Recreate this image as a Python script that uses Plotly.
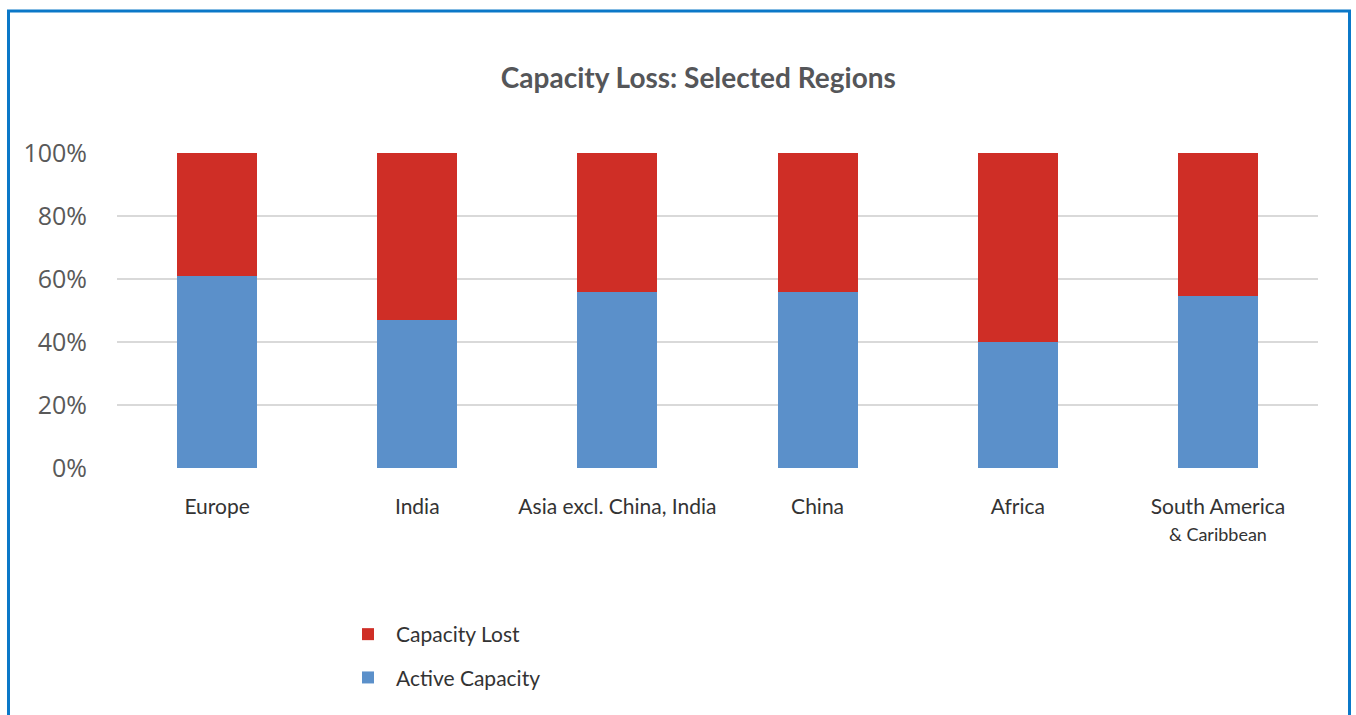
import plotly.graph_objects as go

categories = ["Europe", "India", "Asia excl. China, India", "China", "Africa",
              "South America<br><span style='font-size:18px'>& Caribbean</span>"]
active_capacity = [61, 47, 56, 56, 40, 54.5]
capacity_lost = [100 - v for v in active_capacity]
y_ticks = [0, 20, 40, 60, 80, 100]
y_tick_labels = ["0%", "20%", "40%", "60%", "80%", "100%"]

RED = "#CF2E26"
BLUE = "#5B90CA"

fig = go.Figure()
fig.add_trace(go.Bar(x=categories, y=active_capacity, name="Active Capacity",
                     marker=dict(color=BLUE, line=dict(width=0)), width=0.4,
                     legendgroup="a", legendrank=2))
fig.add_trace(go.Bar(x=categories, y=capacity_lost, name="Capacity Lost",
                     marker=dict(color=RED, line=dict(width=0)), width=0.4,
                     legendgroup="b", legendrank=1))

L, R, T, B = 117, 38, 153, 247
W, H = 1356, 715
pw, ph = W - L - R, H - T - B

def px_x(x):
    return (x - L) / pw

def px_y(y):
    return (H - B - y) / ph

fig.update_layout(
    width=W, height=H,
    margin=dict(l=L, r=R, t=T, b=B, pad=0),
    barmode="stack",
    paper_bgcolor="white", plot_bgcolor="white",
    font=dict(family="Lato, sans-serif", color="#333333"),
    title=dict(text="<b>Capacity Loss: Selected Regions</b>",
               x=0.515, xref="container", xanchor="center",
               y=1 - 78 / H, yref="container", yanchor="middle",
               font=dict(family="Lato, sans-serif", size=28, color="#555659")),
    xaxis=dict(showgrid=False, zeroline=False, showline=False,
               tickfont=dict(size=21, color="#333333"),
               ticklabelstandoff=24, ticks=""),
    yaxis=dict(range=[0, 100], tickvals=y_ticks, ticktext=y_tick_labels,
               showgrid=True, gridcolor="#D9D9D9", gridwidth=2,
               zeroline=False, showline=False, ticks="",
               tickfont=dict(family="Open Sans, sans-serif", size=25, color="#595959"),
               ticklabelstandoff=29),
    legend=dict(orientation="v", x=px_x(340), y=px_y(614), xanchor="left", yanchor="top",
                traceorder="grouped", tracegroupgap=13, itemwidth=46,
                font=dict(size=21, color="#333333"), bgcolor="rgba(0,0,0,0)"),
    shapes=[dict(type="rect", xref="paper", yref="paper",
                 x0=px_x(8.5), x1=px_x(1349.5), y0=px_y(740), y1=px_y(11),
                 line=dict(color="#0B78C8", width=3), fillcolor="rgba(0,0,0,0)",
                 layer="above")],
)

fig.write_html("out.html")
